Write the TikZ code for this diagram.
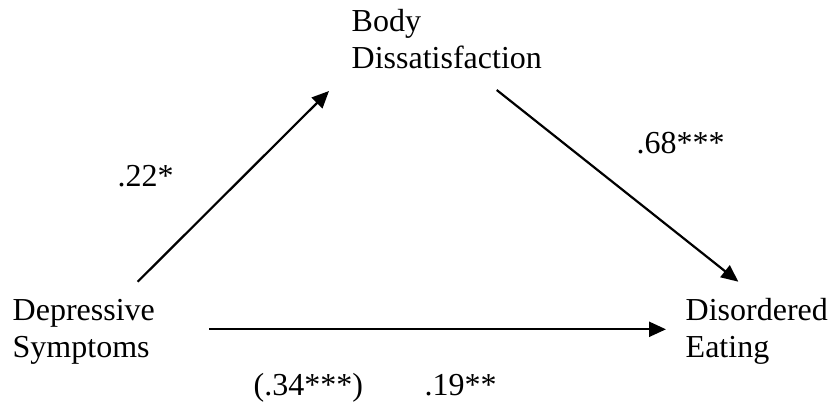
\documentclass[tikz,border=0pt]{standalone}
\usepackage{fontspec}
\setmainfont{Liberation Serif}
\usepackage{tikz}
\usetikzlibrary{arrows.meta,calc}
\tikzset{
  var/.style={align=left, inner sep=0pt, anchor=base west,
              font=\fontsize{32}{37}\selectfont},
  coef/.style={inner sep=0pt, anchor=base west,
               font=\fontsize{32}{37}\selectfont},
  ar/.style={-{Triangle[length=17pt, width=15pt]}, line width=2.2pt},
}

\begin{document}
\begin{tikzpicture}[x=1pt, y=-1pt]
  \useasboundingbox (0,0) rectangle (830,402);
  \node[var] (body) at (351.5,68.3) {Body\\Dissatisfaction};
  \node[var] (dep) at (12.5,357) {Depressive\\Symptoms};
  \node[var] (dis) at (685.5,357.5) {Disordered\\Eating};
  % path coefficients
  \node[coef] (a) at (117.5,186) {.22*};
  \node[coef] (b) at (636.5,153.3) {.68***};
  \node[coef] (c) at (253.5,395.5) {(.34***)};
  \node[coef] (cp) at (424.5,395.5) {.19**};
  \draw[ar] ($(dep.base west)+(125.2,-75.3)$) -- ($(body.base west)+(-22.5,22.7)$);
  \draw[ar] ($(body.base west)+(145.2,21.7)$) -- ($(dis.base west)+(52.8,-75.8)$);
  \draw[ar] ($(dep.base west)+(196.5,-27.7)$) -- ($(dis.base west)+(-19.5,-28.2)$);
\end{tikzpicture}
\end{document}
